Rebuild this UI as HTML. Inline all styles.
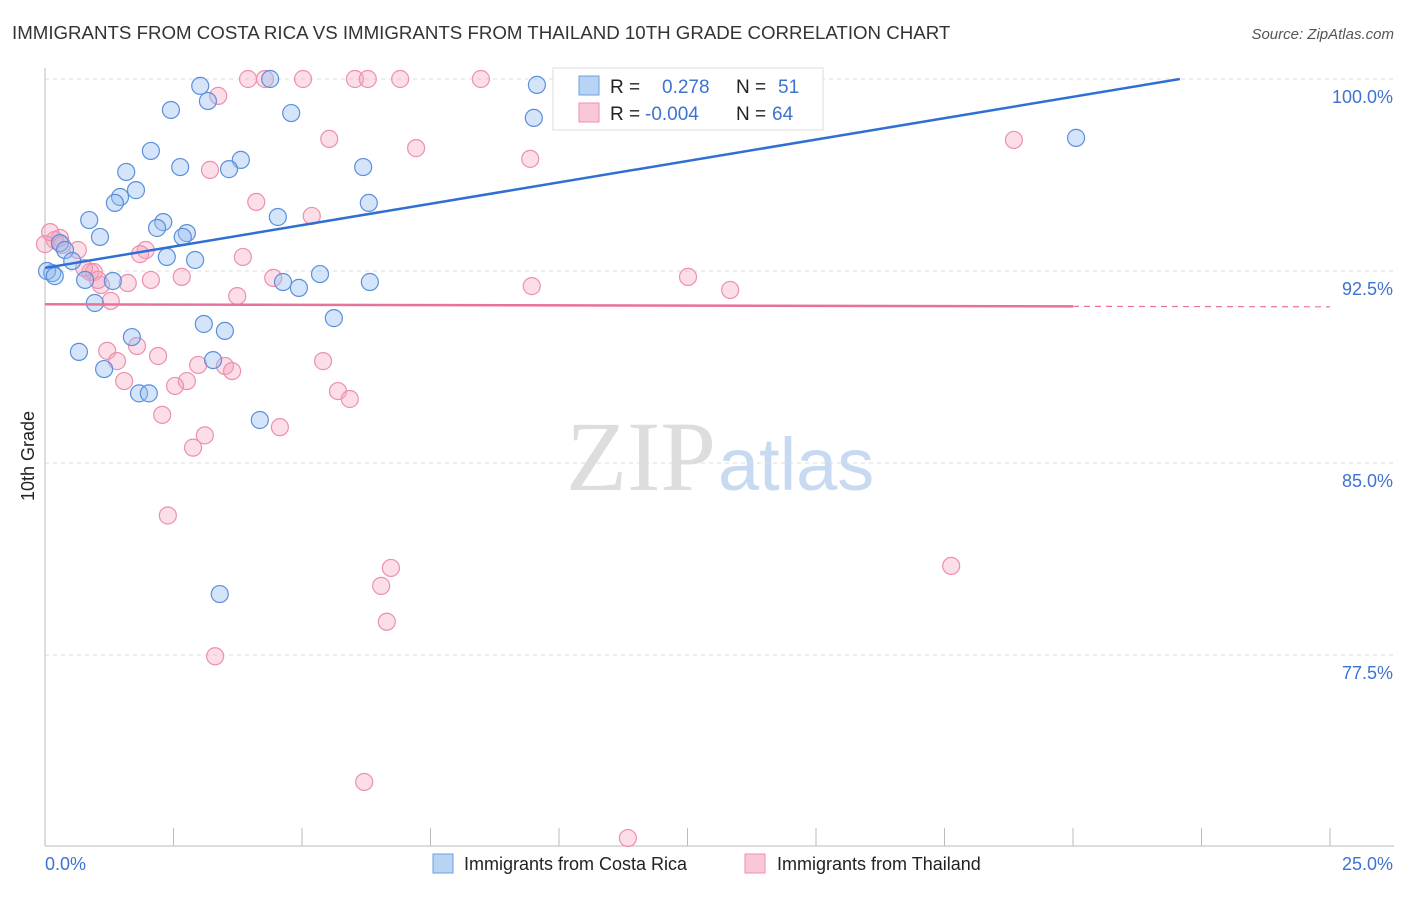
<!DOCTYPE html>
<html><head><meta charset="utf-8"><style>
body{margin:0;background:#fff;font-family:"Liberation Sans",sans-serif}
</style></head><body>
<svg id="c" width="1406" height="892" xmlns="http://www.w3.org/2000/svg">
<text x="12" y="39" font-size="18.7" fill="#333">IMMIGRANTS FROM COSTA RICA VS IMMIGRANTS FROM THAILAND 10TH GRADE CORRELATION CHART</text>
<text x="1394" y="39" font-size="15" fill="#555" text-anchor="end" font-style="italic">Source: ZipAtlas.com</text>
<text x="716" y="490" font-size="100" fill="#ddd" text-anchor="end" font-family="Liberation Serif">ZIP</text>
<text x="718" y="490" font-size="74" fill="#c8daf2">atlas</text>
<text transform="translate(34,456) rotate(-90)" font-size="18" fill="#222" text-anchor="middle">10th Grade</text>
<g id="grid"></g><g id="pts"></g><g id="lines"></g>
<g>
<rect x="553" y="68" width="270" height="62" fill="#fff" stroke="#ddd"/>
<rect x="579" y="76" width="20" height="19" fill="#b9d3f5" stroke="#6d9ee0"/>
<rect x="579" y="103" width="20" height="19" fill="#f9c8d7" stroke="#ee8fae"/>
<text x="610" y="93" font-size="19" fill="#222">R =</text><text x="662" y="93" font-size="19" fill="#3d73d0">0.278</text>
<text x="736" y="93" font-size="19" fill="#222">N =</text><text x="778" y="93" font-size="19" fill="#3d73d0">51</text>
<text x="610" y="120" font-size="19" fill="#222">R =</text><text x="645" y="120" font-size="19" fill="#3d73d0">-0.004</text>
<text x="736" y="120" font-size="19" fill="#222">N =</text><text x="772" y="120" font-size="19" fill="#3d73d0">64</text>
</g>
<g>
<rect x="433" y="854" width="20" height="19" fill="#b9d3f5" stroke="#6d9ee0"/>
<text x="464" y="870" font-size="18" fill="#222">Immigrants from Costa Rica</text>
<rect x="745" y="854" width="20" height="19" fill="#f9c8d7" stroke="#ee8fae"/>
<text x="777" y="870" font-size="18" fill="#222">Immigrants from Thailand</text>
</g>
</svg>
<script>
const yTicks=[100,92.5,85,77.5];
const yTickLabels=["100.0%","92.5%","85.0%","77.5%"];
const xTickCount=[0,2.5,5,7.5,10,12.5,15,17.5,20,22.5,25];
const xEndLabels=["0.0%","25.0%"];
const blueX=[3.02,4.38,3.17,2.45,4.79,9.57,9.51,2.06,3.81,2.63,3.58,1.58,6.19,1.77,1.46,1.36,6.30,0.86,2.30,2.18,4.53,2.76,2.68,1.07,0.29,0.39,0.53,0.14,0.04,0.78,1.32,2.92,2.37,5.35,4.63,4.94,6.32,0.97,5.62,3.09,3.50,0.66,1.69,3.27,1.15,1.83,2.02,4.18,3.40,20.06,0.19];
const blueY=[99.73,100,99.14,98.79,98.67,99.77,98.48,97.19,96.84,96.56,96.48,96.37,96.56,95.66,95.39,95.16,95.16,94.49,94.41,94.18,94.61,93.98,93.83,93.83,93.59,93.32,92.89,92.42,92.5,92.15,92.11,92.93,93.05,92.38,92.07,91.84,92.07,91.25,90.66,90.43,90.16,89.34,89.92,89.02,88.67,87.72,87.72,86.68,79.88,97.7,92.3];
const pinkX=[3.95,4.28,5.02,6.03,6.28,6.91,8.48,11.61,3.37,5.53,7.22,9.44,3.21,4.11,5.19,1.96,0.64,0.29,0.19,0.88,0.95,0.76,2.66,2.06,4.44,9.47,12.51,13.33,1.61,1.09,1.28,3.74,3.85,1.21,1.40,1.79,2.20,1.54,2.76,2.53,2.98,3.50,3.64,5.41,5.70,5.93,2.28,3.11,2.88,4.57,2.39,6.73,6.54,6.65,17.63,3.31,6.21,11.34,18.85,0.33,0.0,0.1,1.03,1.85];
const pinkY=[100,100,100,100,100,100,100,100,99.34,97.66,97.3,96.88,96.45,95.2,94.65,93.32,93.32,93.79,93.71,92.46,92.46,92.62,92.27,92.15,92.23,91.91,92.27,91.76,92.03,91.95,91.33,91.52,93.05,89.38,88.98,89.57,89.18,88.2,88.2,88.01,88.83,88.79,88.59,88.98,87.81,87.5,86.88,86.08,85.6,86.4,82.95,80.9,80.2,78.8,80.98,77.45,72.54,70.35,97.62,93.52,93.55,94.02,92.15,93.16];
const blueLine=[92.62,100.0];
const blueLineX=[0,22.08];
const pinkLine=[91.2,91.12]; const pinkLineX=[0,20];
const X=v=>45+v*51.4, Y=v=>79+(100-v)*25.6;
const NS="http://www.w3.org/2000/svg";
function mk(t,a,p){const e=document.createElementNS(NS,t);for(const k in a)e.setAttribute(k,a[k]);p.appendChild(e);return e;}
const g=document.getElementById('grid');
yTicks.forEach((v,i)=>{
 const l=mk('line',{x1:45,x2:1394,y1:Y(v),y2:Y(v),stroke:'#ddd','stroke-dasharray':'4,4'},g);
 
 
 const t=mk('text',{x:1393,y:Y(v)+24,'font-size':18,fill:'#3d73d0','text-anchor':'end'},g);t.textContent=yTickLabels[i];
 
 
});
const ax=mk('line',{x1:45,x2:45,y1:68,y2:846,stroke:'#bbb'},g);


const xa=mk('line',{x1:45,x2:1394,y1:846,y2:846,stroke:'#bbb'},g);


xTickCount.forEach(v=>{const t=mk('line',{x1:X(v),x2:X(v),y1:828,y2:846,stroke:'#bbb'},g);
 
 });
const t0=mk('text',{x:45,y:870,'font-size':18,fill:'#3d73d0'},g);t0.textContent=xEndLabels[0];


const t1=mk('text',{x:1393,y:870,'font-size':18,fill:'#3d73d0','text-anchor':'end'},g);t1.textContent=xEndLabels[1];


const P=document.getElementById('pts');
pinkX.forEach((x,i)=>{const c=mk('circle',{cx:X(x),cy:Y(pinkY[i]),r:8.5,fill:'rgba(244,160,188,0.35)',stroke:'#ee8fae','stroke-width':1.2},P);
 
 });
blueX.forEach((x,i)=>{const c=mk('circle',{cx:X(x),cy:Y(blueY[i]),r:8.5,fill:'rgba(150,190,240,0.4)',stroke:'#5b8fdc','stroke-width':1.2},P);
 
 });
const L=document.getElementById('lines');
const bl=mk('line',{x1:X(blueLineX[0]),y1:Y(blueLine[0]),x2:X(blueLineX[1]),y2:Y(blueLine[1]),stroke:'#2f6fd4','stroke-width':2.5},L);


const pl=mk('line',{x1:X(pinkLineX[0]),y1:Y(pinkLine[0]),x2:X(pinkLineX[1]),y2:Y(pinkLine[1]),stroke:'#e8739a','stroke-width':2.5},L);


const slope=(pinkLine[1]-pinkLine[0])/(pinkLineX[1]-pinkLineX[0]);
const pd=mk('line',{x1:X(pinkLineX[1]),y1:Y(pinkLine[1]),x2:X(25),y2:Y(pinkLine[0]+slope*25),stroke:'#e8739a','stroke-width':1.2,'stroke-dasharray':'6,5'},L);


</script>
</body></html>
